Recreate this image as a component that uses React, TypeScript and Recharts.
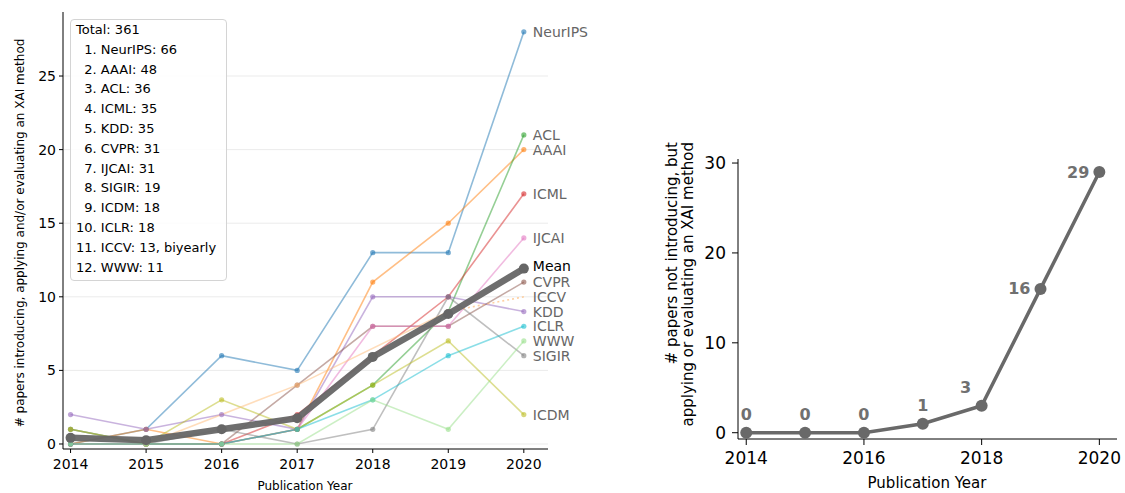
import React from "react";
import { LineChart, Line, XAxis, YAxis, ReferenceLine } from "recharts";

const YEARS = [2014, 2015, 2016, 2017, 2018, 2019, 2020];

const VENUES = ["NeurIPS", "AAAI", "ACL", "ICML", "KDD", "CVPR", "IJCAI", "SIGIR", "ICDM", "ICLR", "ICCV", "WWW"];
const NEURIPS = [0, 1, 6, 5, 13, 13, 28];
const AAAI = [0, 1, 0, 1, 11, 15, 20];
const ACL = [1, 0, 0, 1, 4, 9, 21];
const ICML = [0, 0, 0, 2, 6, 10, 17];
const KDD = [2, 1, 2, 1, 10, 10, 9];
const CVPR = [0, 0, 0, 4, 8, 8, 11];
const IJCAI = [0, 0, 0, 1, 8, 8, 14];
const SIGIR = [1, 0, 1, 0, 1, 10, 6];
const ICDM = [1, 0, 3, 1, 4, 7, 2];
const ICLR = [0, 0, 0, 1, 3, 6, 8];
const ICCV = [null, 0, null, 4, null, 9, null]; // biyearly
const ICCV_TREND = [null, null, null, null, null, 9, 10];
const WWW = [0, 0, 0, 0, 3, 1, 7];

// papers not introducing, but applying/evaluating an XAI method
const APPLIED = [0, 0, 0, 1, 3, 16, 29];

const LEFT_X_TICKS = [2014, 2015, 2016, 2017, 2018, 2019, 2020];
const LEFT_Y_TICKS = [0, 5, 10, 15, 20, 25];
const RIGHT_X_TICKS = [2014, 2016, 2018, 2020];
const RIGHT_Y_TICKS = [0, 10, 20, 30];

const SERIES: (number | null)[][] = [NEURIPS, AAAI, ACL, ICML, KDD, CVPR, IJCAI, SIGIR, ICDM, ICLR, ICCV, WWW];
const COLORS = ["#1f77b4", "#ff7f0e", "#2ca02c", "#d62728", "#9467bd", "#8c564b", "#e377c2", "#7f7f7f", "#bcbd22", "#17becf", "#ffbb78", "#98df8a"];

const MEAN = YEARS.map((_, i) => SERIES.reduce((s, arr) => s + (arr[i] ?? 0), 0) / SERIES.length);

const leftData = YEARS.map((year, i) => {
    const row: any = { year, Mean: MEAN[i], ICCV_TREND: ICCV_TREND[i] };
    VENUES.forEach((v, k) => { row[v] = SERIES[k][i]; });
    return row;
});

const rightData = YEARS.map((year, i) => ({ year, value: APPLIED[i] }));

const totals = SERIES.map(arr => arr.reduce<number>((s, v) => s + (v ?? 0), 0));
const grandTotal = totals.reduce((a, b) => a + b, 0);
const legendLines = [
    `Total: ${grandTotal}`,
    ...VENUES.map((v, k) => {
        const pad = k + 1 < 10 ? "  " : "";
        return `${pad}${k + 1}. ${v}: ${totals[k]}${v === "ICCV" ? ", biyearly" : ""}`;
    }),
];

// where each label sits relative to its point on the right chart
const RIGHT_LABEL_POS = ["top", "top", "top", "top", "topleft", "left", "left"];

const FONT = "DejaVu Sans";
const LAST = YEARS.length - 1;

const endLabel = (name: string, color: string, dy = 0) => (props: any) => {
    const { x, y, index } = props;
    if (index !== LAST || x == null || y == null) return null;
    return (
        <text x={x + 9} y={y + dy} fill={color} fontSize={14} fontFamily={FONT} dominantBaseline="central">
            {name}
        </text>
    );
};

const rightLabel = (props: any) => {
    const { x, y, index, value } = props;
    const pos = RIGHT_LABEL_POS[index];
    let tx = x, ty = y - 18, anchor = "middle";
    if (pos === "topleft") { tx = x - 16; ty = y - 18; }
    if (pos === "left") { tx = x - 10; ty = y; anchor = "end"; }
    return (
        <text x={tx} y={ty} fill="#707070" fontSize={16} fontWeight="bold" fontFamily={FONT}
            textAnchor={anchor} dominantBaseline="central">
            {value}
        </text>
    );
};

const axisStyle = { stroke: "#000", strokeWidth: 1 };

export default function App() {
    return (
        <div style={{ position: "absolute", left: 0, top: 0, width: 1125, height: 493, background: "#fff", fontFamily: FONT }}>
            <div style={{ position: "absolute", left: 0, top: 0 }}>
                <LineChart width={620} height={493} data={leftData} margin={{ top: 12, right: 72, bottom: 14, left: 23 }}>
                    <XAxis dataKey="year" type="number" domain={[2013.9, 2020.32]} ticks={LEFT_X_TICKS}
                        allowDataOverflow height={30} axisLine={axisStyle} tickLine={axisStyle} tickSize={4}
                        tickMargin={6} tick={{ fill: "#000", fontSize: 14, fontFamily: FONT }} />
                    <YAxis type="number" domain={[-0.34, 29.35]} ticks={LEFT_Y_TICKS} allowDataOverflow width={40}
                        axisLine={axisStyle} tickLine={axisStyle} tickSize={4} tickMargin={3}
                        tick={{ fill: "#000", fontSize: 14, fontFamily: FONT }} />
                    {LEFT_Y_TICKS.map(t => (
                        <ReferenceLine key={t} y={t} stroke="#ebebeb" strokeWidth={1} />
                    ))}
                    {VENUES.map((v, k) => (
                        <Line key={v} dataKey={v} stroke={COLORS[k]} strokeOpacity={0.5} strokeWidth={1.6}
                            connectNulls isAnimationActive={false}
                            dot={{ r: 2.6, fill: COLORS[k], fillOpacity: 0.6, stroke: "none" }} activeDot={false}
                            label={v === "ICCV" ? undefined : endLabel(v, "#666")} />
                    ))}
                    <Line dataKey="ICCV_TREND" stroke={COLORS[10]} strokeOpacity={0.7} strokeWidth={1.6}
                        strokeDasharray="2 3" dot={false} activeDot={false} isAnimationActive={false}
                        label={endLabel("ICCV", "#666")} />
                    <Line dataKey="Mean" stroke="#666" strokeOpacity={0.95} strokeWidth={6.5} isAnimationActive={false}
                        dot={{ r: 5, fill: "#666", stroke: "none" }} activeDot={false}
                        label={endLabel("Mean", "#000", -3)} />
                </LineChart>
            </div>

            <div style={{ position: "absolute", left: 640, top: 0 }}>
                <LineChart width={485} height={493} data={rightData} margin={{ top: 159, right: 8, bottom: 24, left: 58 }}>
                    <XAxis dataKey="year" type="number" domain={[2013.86, 2020.3]} ticks={RIGHT_X_TICKS}
                        allowDataOverflow height={30} axisLine={axisStyle} tickLine={axisStyle} tickSize={6}
                        tickMargin={7} tick={{ fill: "#000", fontSize: 17, fontFamily: FONT }} />
                    <YAxis type="number" domain={[-0.7, 30.45]} ticks={RIGHT_Y_TICKS} allowDataOverflow width={40}
                        axisLine={axisStyle} tickLine={axisStyle} tickSize={6} tickMargin={6}
                        tick={{ fill: "#000", fontSize: 17, fontFamily: FONT }} />
                    <Line dataKey="value" stroke="#696969" strokeWidth={3.5} isAnimationActive={false}
                        dot={{ r: 6, fill: "#696969", stroke: "none" }} activeDot={false} label={rightLabel} />
                </LineChart>
            </div>

            <div style={{
                position: "absolute", left: 70, top: 19, width: 157, height: 262, boxSizing: "border-box",
                border: "1px solid #d4d4d4", borderRadius: 4, background: "rgba(255,255,255,0.85)",
                fontSize: 13, lineHeight: "19.8px", padding: "0 0 0 5px", whiteSpace: "pre", color: "#000",
            }}>
                {legendLines.map((l, i) => <div key={i}>{l}</div>)}
            </div>

            <svg width={1125} height={493} style={{ position: "absolute", left: 0, top: 0, pointerEvents: "none" }}>
                <text transform="translate(20,233) rotate(-90)" textAnchor="middle" dominantBaseline="central"
                    fontSize={12} fontFamily={FONT}>
                    # papers introducing, applying and/or evaluating an XAI method
                </text>
                <text x={305} y={486} textAnchor="middle" dominantBaseline="central" fontSize={12} fontFamily={FONT}>
                    Publication Year
                </text>
                <text transform="translate(672,142) rotate(-90)" textAnchor="end" dominantBaseline="central"
                    fontSize={15} fontFamily={FONT}>
                    # papers not introducing, but
                </text>
                <text transform="translate(688,142) rotate(-90)" textAnchor="end" dominantBaseline="central"
                    fontSize={15} fontFamily={FONT}>
                    applying or evaluating an XAI method
                </text>
                <text x={927} y={483} textAnchor="middle" dominantBaseline="central" fontSize={15} fontFamily={FONT}>
                    Publication Year
                </text>
            </svg>
        </div>
    );
}
